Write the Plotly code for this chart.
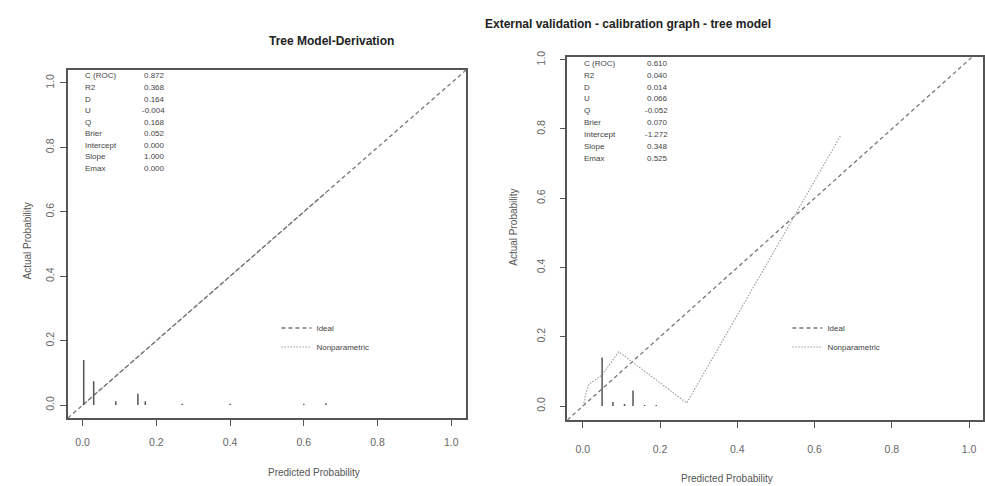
import plotly.graph_objects as go

# ---------------- data ----------------
stat_names = ["C (ROC)", "R2", "D", "U", "Q", "Brier", "Intercept", "Slope", "Emax"]
stats_deriv = ["0.872", "0.368", "0.164", "-0.004", "0.168", "0.052", "0.000", "1.000", "0.000"]
stats_ext = ["0.610", "0.040", "0.014", "0.066", "-0.052", "0.070", "-1.272", "0.348", "0.525"]

ideal_x = [-0.04, 1.04]
ideal_y = [-0.04, 1.04]

# derivation: nonparametric coincides with ideal
np_deriv_x = [0.0, 0.03, 0.09, 0.15, 0.17, 0.27, 0.40, 0.60, 0.66]
np_deriv_y = [0.0, 0.03, 0.09, 0.15, 0.17, 0.27, 0.40, 0.60, 0.66]

np_ext_x = [0.0, 0.003, 0.008, 0.016, 0.05, 0.093, 0.269, 0.667]
np_ext_y = [0.0, 0.009, 0.037, 0.063, 0.09, 0.157, 0.009, 0.78]

rug_deriv_x = [0.003, 0.03, 0.09, 0.15, 0.17, 0.27, 0.40, 0.60, 0.66]
rug_deriv_h = [0.14, 0.074, 0.012, 0.035, 0.012, 0.004, 0.004, 0.004, 0.006]

rug_ext_x = [0.05, 0.078, 0.108, 0.13, 0.16, 0.19]
rug_ext_h = [0.14, 0.012, 0.006, 0.045, 0.003, 0.003]

ticks = [0.0, 0.2, 0.4, 0.6, 0.8, 1.0]
tick_text = ["0.0", "0.2", "0.4", "0.6", "0.8", "1.0"]

W, H = 985, 486
FONT = "Liberation Sans, Arial, sans-serif"
AX = "#555555"
IDEAL_C = "#777777"
NP_C = "#9a9a9a"
RUG_C = "#555555"
DASH = "4px,3px"
DOT = "1.5px,1.5px"

fig = go.Figure()


def rug_xy(xs, hs):
    X, Y = [], []
    for x, h in zip(xs, hs):
        X += [x, x, None]
        Y += [0.0, h, None]
    return X, Y


def add_panel(xa, ya, legend, npx, npy, rx, rh, overlap):
    if overlap:
        # nonparametric coincides with ideal: draw under it with same dash
        fig.add_trace(go.Scatter(x=npx, y=npy, mode="lines", showlegend=False,
                                 line=dict(color=IDEAL_C, width=1.2, dash=DASH),
                                 xaxis=xa, yaxis=ya, hoverinfo="skip"))
    fig.add_trace(go.Scatter(x=ideal_x, y=ideal_y, mode="lines", name="Ideal",
                             line=dict(color=IDEAL_C, width=1.3, dash=DASH),
                             xaxis=xa, yaxis=ya, legend=legend))
    fig.add_trace(go.Scatter(x=[None] if overlap else npx, y=[None] if overlap else npy,
                             mode="lines", name="Nonparametric",
                             line=dict(color=NP_C, width=1.1, dash=DOT),
                             xaxis=xa, yaxis=ya, legend=legend))
    X, Y = rug_xy(rx, rh)
    fig.add_trace(go.Scatter(x=X, y=Y, mode="lines", showlegend=False,
                             line=dict(color=RUG_C, width=1.5),
                             xaxis=xa, yaxis=ya, hoverinfo="skip"))


add_panel("x", "y", "legend", np_deriv_x, np_deriv_y, rug_deriv_x, rug_deriv_h, True)
add_panel("x2", "y2", "legend2", np_ext_x, np_ext_y, rug_ext_x, rug_ext_h, False)


def xaxis(domain, rng, standoff):
    return dict(domain=domain, range=rng, showgrid=False, zeroline=False,
                showline=True, mirror=True, linecolor=AX, linewidth=1.5,
                ticks="outside", ticklen=6, tickwidth=1.2, tickcolor=AX,
                tickvals=ticks, ticktext=tick_text, ticklabelstandoff=standoff,
                tickfont=dict(family=FONT, size=10.5, color="#666666"))


def yaxis(domain, rng, anchor, standoff):
    d = xaxis(domain, rng, standoff)
    d.update(tickangle=-90, anchor=anchor)
    return d


lx0, lx1 = 68 / W, 467 / W
rx0, rx1 = 568.5 / W, 1.0
ly0, ly1 = 1 - 417 / H, 1 - 64 / H
ry0, ry1 = 1 - 419 / H, 1 - 51 / H

LEGFONT = dict(size=8, family=FONT, color="#444")
fig.update_layout(
    width=W, height=H, margin=dict(l=0, r=0, t=0, b=0),
    paper_bgcolor="white", plot_bgcolor="white",
    font=dict(family=FONT, color="#444444"),
    xaxis=dict(xaxis([lx0, lx1], [-0.04, 1.04], 8), anchor="y"),
    yaxis=yaxis([ly0, ly1], [-0.04, 1.04], "x", 2),
    xaxis2=dict(xaxis([rx0, rx1], [-0.04, 1.036], 13), anchor="y2"),
    yaxis2=yaxis([ry0, ry1], [-0.04, 1.007], "x2", 10),
    legend=dict(x=277 / W, y=1 - 311 / H, xanchor="left", yanchor="top",
                bgcolor="rgba(0,0,0,0)", font=LEGFONT, itemwidth=30, tracegroupgap=0),
    legend2=dict(x=789 / W, y=1 - 311 / H, xanchor="left", yanchor="top",
                 bgcolor="rgba(0,0,0,0)", font=LEGFONT, itemwidth=30, tracegroupgap=0),
)

ann = []
# titles
ann.append(dict(x=268 / W, y=1 - 35 / H, xref="paper", yref="paper", text="<b>Tree Model-Derivation</b>",
                yanchor="middle", showarrow=False, font=dict(size=12, family=FONT, color="#222")))
ann.append(dict(x=775 / W, y=1 - 17 / H, xref="paper", yref="paper",
                text="<b>External validation - calibration graph - tree model</b>",
                yanchor="middle", showarrow=False, font=dict(size=12, family=FONT, color="#222")))
# axis titles
for xc, yc in [(267, 472), (777, 478)]:
    ann.append(dict(x=xc / W, y=1 - yc / H, xref="paper", yref="paper", text="Predicted Probability",
                    yanchor="middle", showarrow=False, font=dict(size=10, family=FONT, color="#555")))
for xc, yc in [(28, 237), (515, 223)]:
    ann.append(dict(x=xc / W, y=1 - yc / H, xref="paper", yref="paper", text="Actual Probability",
                    xanchor="center", yanchor="middle",
                    textangle=-90, showarrow=False, font=dict(size=10, family=FONT, color="#555")))

# stats text
for names, vals, lab_x, val_x, y0, dy in [
    (stat_names, stats_deriv, 83, 167, 70, 11.7),
    (stat_names, stats_ext, 583, 671, 57, 12.1),
]:
    for i, (n, v) in enumerate(zip(names, vals)):
        yy = 1 - (y0 + i * dy) / H
        ann.append(dict(x=lab_x / W, y=yy, xref="paper", yref="paper", text=n, xanchor="left",
                        yanchor="middle", showarrow=False, font=dict(size=8, family=FONT, color="#444")))
        ann.append(dict(x=val_x / W, y=yy, xref="paper", yref="paper", text=v, xanchor="right",
                        yanchor="middle", showarrow=False, font=dict(size=8, family=FONT, color="#444")))

fig.update_layout(annotations=ann)
fig.write_html("out.html")
